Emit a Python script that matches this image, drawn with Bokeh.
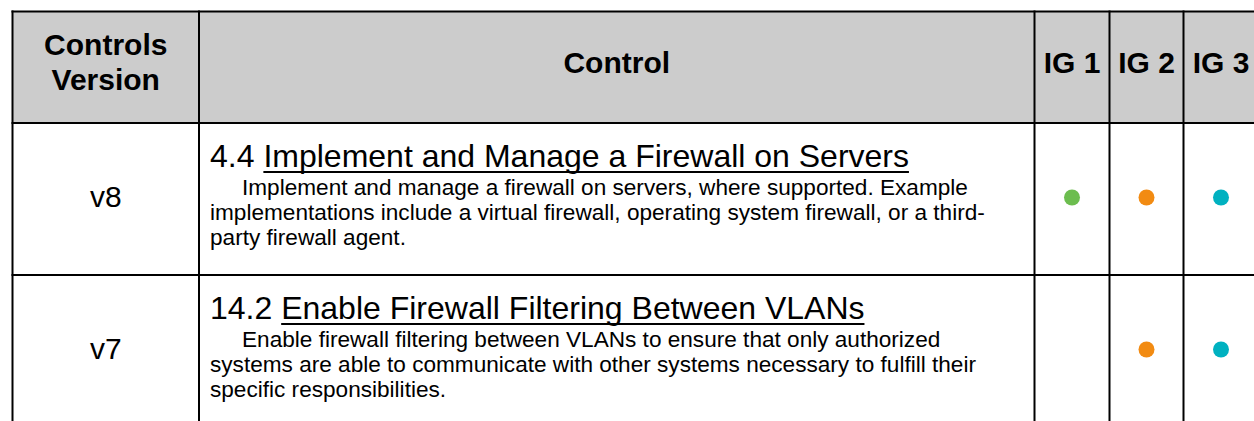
from bokeh.plotting import figure
from bokeh.models import Range1d
from bokeh.core.properties import value
from bokeh.embed import file_html
from bokeh.resources import INLINE

# ---------------- data ----------------
headers = ["Controls\nVersion", "Control", "IG 1", "IG 2", "IG 3"]
versions = ["v8", "v7"]
control_ids = ["4.4", "14.2"]
control_titles = ["Implement and Manage a Firewall on Servers",
                  "Enable Firewall Filtering Between VLANs"]
descriptions = [
    ["Implement and manage a firewall on servers, where supported. Example",
     "implementations include a virtual firewall, operating system firewall, or a third-",
     "party firewall agent."],
    ["Enable firewall filtering between VLANs to ensure that only authorized",
     "systems are able to communicate with other systems necessary to fulfill their",
     "specific responsibilities."],
]
ig1 = [True, False]
ig2 = [True, True]
ig3 = [True, True]
ig_colors = ["#6cbd4f", "#f28b12", "#00b1c0"]

# ---------------- layout / style ----------------
FONT = "Liberation Sans"
W, H = 1254, 421
col_x = [12, 198.5, 1034, 1109, 1183, 1258]
row_y = [11, 122.5, 274.5, 430]
HEAD_FS, TITLE_FS, BODY_FS, VER_FS = 30, 32, 22.6, 30

# Helvetica/Arial advance widths (1/1000 em) for underline length
AW = {' ': 278, '.': 278, ',': 278, '-': 333, 'A': 667, 'B': 667, 'C': 722, 'D': 722,
      'E': 667, 'F': 611, 'G': 778, 'H': 722, 'I': 278, 'J': 500, 'K': 667, 'L': 556,
      'M': 833, 'N': 722, 'O': 778, 'P': 667, 'Q': 778, 'R': 722, 'S': 667, 'T': 611,
      'U': 722, 'V': 667, 'W': 944, 'X': 667, 'Y': 667, 'Z': 611, 'a': 556, 'b': 556,
      'c': 500, 'd': 556, 'e': 556, 'f': 278, 'g': 556, 'h': 556, 'i': 222, 'j': 222,
      'k': 500, 'l': 222, 'm': 833, 'n': 556, 'o': 556, 'p': 556, 'q': 556, 'r': 333,
      's': 500, 't': 278, 'u': 556, 'v': 500, 'w': 722, 'x': 500, 'y': 500, 'z': 500}
for d in "0123456789":
    AW[d] = 556


def text_w(s, fs):
    return sum(AW.get(c, 556) for c in s) * fs / 1000.0


def mid_from_baseline(b, fs):
    return b - 0.35 * fs


p = figure(width=W, height=H, x_range=Range1d(0, W), y_range=Range1d(H, 0),
           output_backend="svg", toolbar_location=None, min_border=0)
p.axis.visible = False
p.grid.visible = False
p.outline_line_color = None
p.background_fill_color = "white"
p.border_fill_color = "white"

# header fill
p.quad(left=[col_x[0]], right=[col_x[-1]], top=[row_y[0]], bottom=[row_y[1]],
       fill_color="#cccccc", line_color=None)

# grid lines
hx0, hx1, hy = [], [], []
for y in row_y[:-1]:
    hx0.append(col_x[0]); hx1.append(col_x[-1]); hy.append(y)
p.segment(x0=hx0, y0=hy, x1=hx1, y1=hy, line_color="black", line_width=2, line_cap="square")
p.segment(x0=col_x, y0=[row_y[0]] * len(col_x), x1=col_x, y1=[row_y[-1]] * len(col_x),
          line_color="black", line_width=2, line_cap="square")

centers = [(col_x[i] + col_x[i + 1]) / 2 for i in range(len(col_x) - 1)]

# header texts
hx, hyy, ht = [], [], []
for i, h in enumerate(headers):
    lines = h.split("\n")
    if len(lines) == 2:
        for j, ln in enumerate(lines):
            hx.append(centers[i]); hyy.append(mid_from_baseline(54 + 35 * j, HEAD_FS)); ht.append(ln)
    else:
        hx.append(centers[i]); hyy.append(mid_from_baseline(72.5, HEAD_FS)); ht.append(h)
p.text(x=hx, y=hyy, text=ht, text_font=value(FONT), text_font_style="bold",
       text_font_size=f"{HEAD_FS}px", text_align="center", text_baseline="middle",
       text_color="black")

# rows
for r in range(len(versions)):
    top = row_y[r + 1]
    mid = top + 74.5
    # version
    p.text(x=[centers[0]], y=[mid_from_baseline(top + 84, VER_FS)], text=[versions[r]],
           text_font=value(FONT), text_font_size=f"{VER_FS}px", text_align="center",
           text_baseline="middle", text_color="black")
    # title
    tx = col_x[1] + 11
    tb = top + 44.5
    p.text(x=[tx], y=[mid_from_baseline(tb, TITLE_FS)], text=[control_ids[r] + " " + control_titles[r]],
           text_font=value(FONT), text_font_size=f"{TITLE_FS}px",
           text_baseline="middle", text_color="black")
    ux0 = tx + text_w(control_ids[r] + " ", TITLE_FS)
    ux1 = ux0 + text_w(control_titles[r], TITLE_FS)
    p.segment(x0=[ux0], y0=[tb + 4.5], x1=[ux1], y1=[tb + 4.5], line_color="black", line_width=2)
    # description
    bx = [tx + 32 if j == 0 else tx for j in range(len(descriptions[r]))]
    by = [mid_from_baseline(top + 72.5 + 25 * j, BODY_FS) for j in range(len(descriptions[r]))]
    p.text(x=bx, y=by, text=descriptions[r], text_font=value(FONT),
           text_font_size=f"{BODY_FS}px", text_baseline="middle", text_color="black")
    # IG dots
    flags = [ig1[r], ig2[r], ig3[r]]
    dx = [centers[2 + k] for k in range(3) if flags[k]]
    dc = [ig_colors[k] for k in range(3) if flags[k]]
    p.scatter(x=dx, y=[mid] * len(dx), size=16, fill_color=dc, line_color=None)

open("out.html", "w").write(file_html(p, INLINE))
